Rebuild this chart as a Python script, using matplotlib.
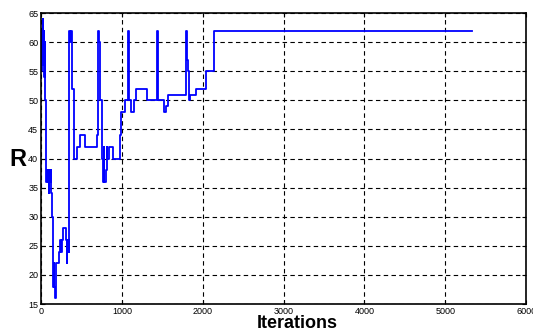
import numpy as np
import matplotlib.pyplot as plt

plt.rcParams['font.family'] = ['Liberation Sans', 'DejaVu Sans']

# iteration at which R changes, and new R value (step curve)
iters = [0, 8, 14, 20, 26, 32, 38, 46, 52, 58, 66, 74, 80, 88, 96, 104, 112, 120, 128,
         136, 146, 152, 160, 166, 173, 185, 220, 232, 248, 256, 270, 305, 315, 322, 330,
         338, 344, 352, 360, 368, 378, 388, 402, 440, 485, 545, 690, 708, 722, 735, 750,
         765, 775, 785, 800, 810, 820, 835, 885, 975, 995, 1035, 1075, 1088, 1110, 1145,
         1178, 1305, 1430, 1450, 1515, 1545, 1570, 1792, 1800, 1812, 1830, 1842, 1920,
         2042, 2140, 5330]
R = [55, 62, 56, 64, 58, 62, 54, 60, 50, 44, 36, 38, 36, 38, 34, 38, 36, 38, 34,
     30, 22, 18, 22, 18, 16, 22, 24, 26, 24, 26, 28, 26, 22, 26, 24,
     26, 24, 62, 60, 62, 60, 52, 40, 42, 44, 42, 44, 62, 60, 50, 40,
     36, 42, 36, 38, 42, 40, 42, 40, 44, 48, 50, 62, 50, 48, 50,
     52, 50, 62, 50, 48, 49, 51, 62, 57, 55, 50, 51, 52,
     55, 62, 62]

fig = plt.figure(figsize=(5.33, 3.35), dpi=100)
ax = fig.add_axes([0.077, 0.0925, 0.91, 0.8685])
ax.plot(iters, R, drawstyle='steps-post', color='#0000ff', lw=1.3)

ax.set_xlim(0, 6000)
ax.set_ylim(15, 65)
ax.set_xticks(np.arange(0, 6001, 1000))
ax.set_yticks(np.arange(15, 66, 5))
ax.grid(True, color='black', linestyle=(0, (4, 3)), linewidth=0.8)
ax.tick_params(direction='in', labelsize=6.5, length=3, top=True, right=True, pad=2)
for s in ax.spines.values():
    s.set_linewidth(1.2)

fig.text(0.034, 0.525, 'R', fontsize=17, fontweight='bold', ha='center', va='center')
fig.text(0.557, 0.035, 'Iterations', fontsize=13, fontweight='bold', ha='center', va='center')

fig.savefig('out.png', dpi=100)
